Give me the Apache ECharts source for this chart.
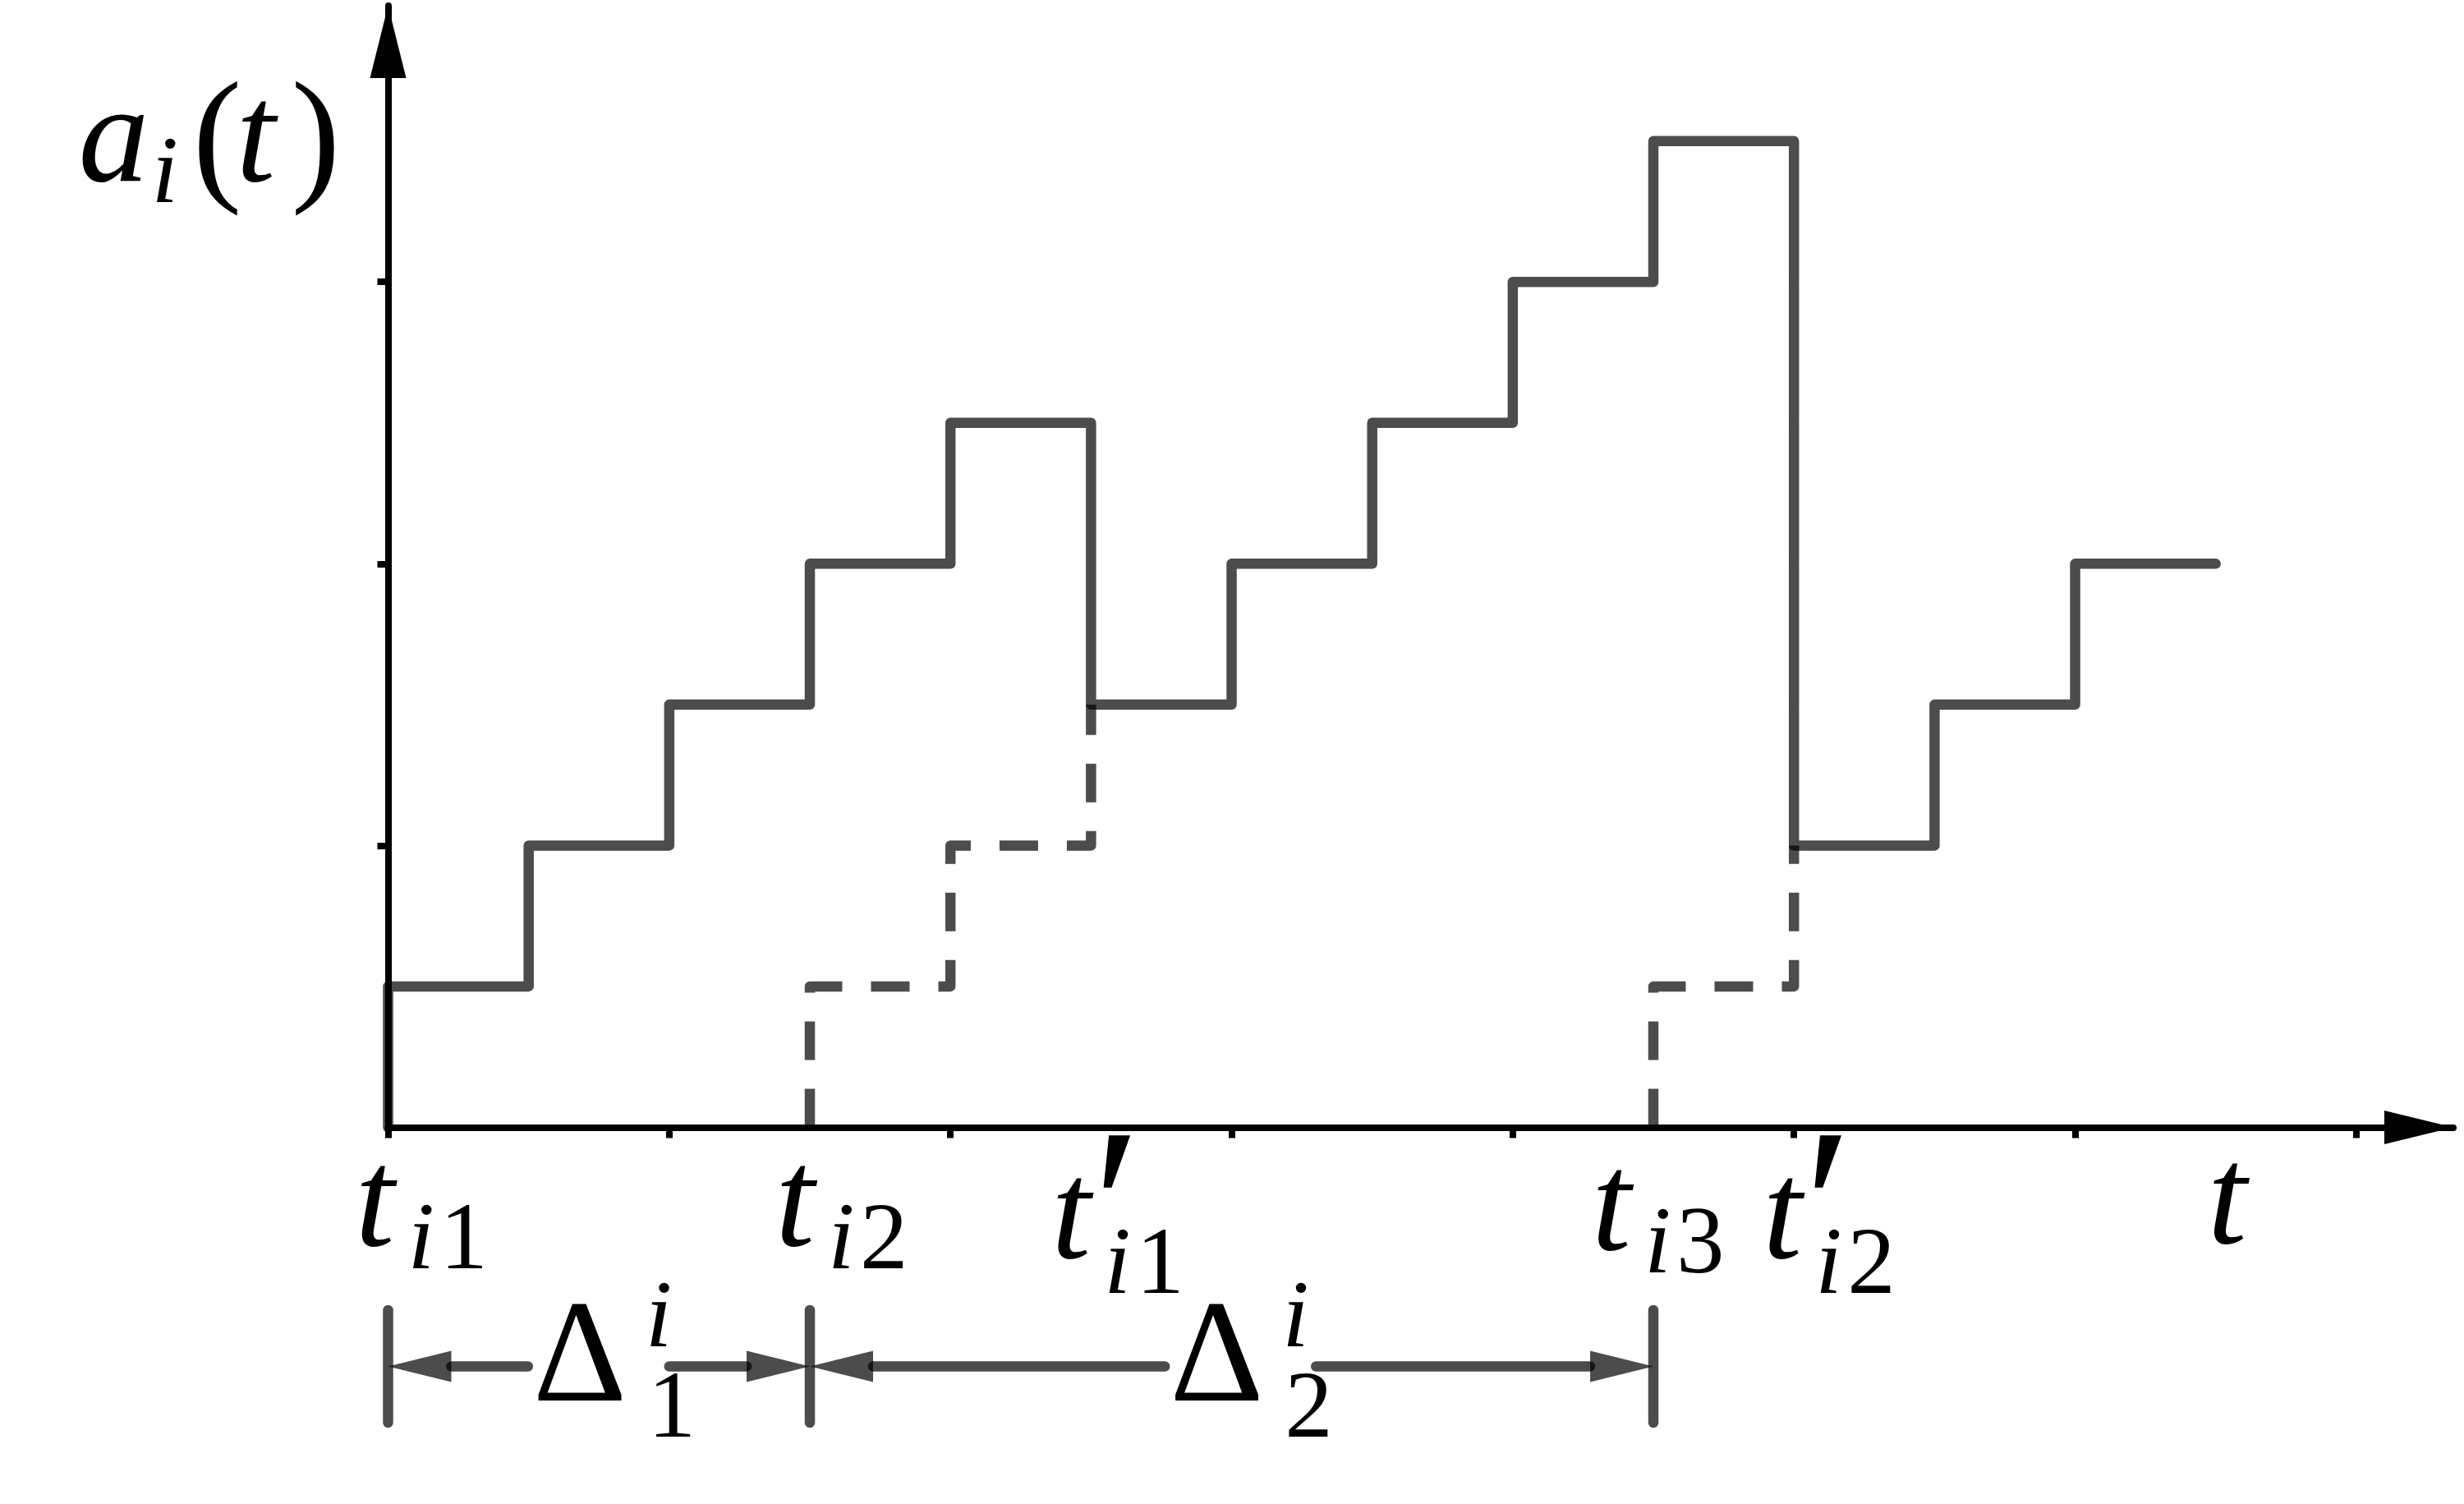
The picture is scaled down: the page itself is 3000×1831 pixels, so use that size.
<!DOCTYPE html>
<html>
<head>
<meta charset="utf-8">
<title>a_i(t)</title>
<script src="https://cdn.jsdelivr.net/npm/echarts@6/dist/echarts.min.js"></script>
<style>
  html, body { margin: 0; padding: 0; background: #fff; }
  #chart { width: 3000px; height: 1831px; }
</style>
</head>
<body>
<div id="chart"></div>
<script>
// step function a_i(t), drawn with step: 'end'
const solidT = [0, 0, 1, 2, 3, 4, 5, 6, 7, 8, 9, 10, 11, 12, 13];
const solidA = [0, 1, 2, 3, 4, 5, 3, 4, 5, 6, 7, 2, 3, 4, 4];
const dashT1 = [3, 3, 4, 5];
const dashA1 = [0, 1, 2, 3];
const dashT2 = [9, 9, 10];
const dashA2 = [0, 1, 2];

const xTicks = [0, 2, 4, 6, 8, 10, 12, 14];
const yTicks = [2, 4, 6];

// labels under the t axis
const tickLabelAt = [0, 3, 5, 9, 10, 13];
const tickLabelSub = ['i1', 'i2', 'i1', 'i3', 'i2', ''];
const tickLabelPrime = [false, false, true, false, true, false];

// Delta intervals
const spanStart = [0, 3];
const spanEnd = [3, 9];
const spanIndex = ['1', '2'];
const spanLabelAt = [1.03, 5.56];

// layout / style
const X_MAX = 14.69;
const Y_MAX = 7.96;
const GRAY = 'rgba(0,0,0,0.7)';
const FONT = '"Liberation Serif", "DejaVu Serif", serif';
const MAIN = 172, SUB = 117, DELTA = 178, PRIME = 270;
const MID = 0.29; // canvas "middle" above the alphabetic baseline, in em
const labelDx = [-40, -42, -48, -75, -38, -10];
const labelDy = [148, 148, 163, 153, 163, 145];
const spanGapEnd = [166, 178];

function txt(str, x, baseline, size, italic) {
  const font = (italic ? 'italic ' : '') + size + 'px ' + FONT;
  return {
    type: 'text',
    style: {
      text: str, x: x, y: baseline - MID * size,
      font: font, textFont: font,
      fill: '#000', textFill: '#000',
      align: 'left', textAlign: 'left',
      verticalAlign: 'middle', textVerticalAlign: 'middle'
    }
  };
}

function seg(x1, y1, x2, y2) {
  return {
    type: 'line',
    shape: { x1: x1, y1: y1, x2: x2, y2: y2 },
    style: { stroke: GRAY, lineWidth: 12.5, lineCap: 'round' }
  };
}

function head(tipX, y, dir) {
  const bx = tipX + dir * 77;
  return {
    type: 'polygon',
    shape: { points: [[tipX, y], [bx, y - 19], [bx, y + 19]] },
    style: { fill: GRAY }
  };
}

function pairs(ts, as) {
  return ts.map((t, i) => [t, as[i]]);
}

const chart = echarts.init(document.getElementById('chart'));

function valueAxis(max, ticks, arrowSize) {
  return {
    type: 'value',
    min: 0,
    max: max,
    interval: 2,
    splitLine: { show: false },
    axisLabel: { show: false },
    axisLine: {
      show: true,
      onZero: true,
      lineStyle: { color: '#000', width: 8 },
      symbol: ['none', 'triangle'],
      symbolSize: arrowSize,
      symbolOffset: [0, -arrowSize[1] / 2]
    },
    axisTick: { show: true, length: 13, lineStyle: { color: '#000', width: 8 }, customValues: ticks }
  };
}

function stepSeries(data, dashed) {
  return {
    type: 'line',
    data: data,
    step: 'end',
    symbol: 'none',
    clip: false,
    silent: true,
    emphasis: { disabled: true },
    lineStyle: dashed
      ? { color: GRAY, width: 12.5, type: [47, 35], dashOffset: 0, cap: 'butt', join: 'round' }
      : { color: GRAY, width: 12.5, cap: 'round', join: 'round' }
  };
}

chart.setOption({
  animation: false,
  backgroundColor: '#fff',
  grid: {
    left: 472.5,
    right: 13,
    top: 7,
    bottom: 458.5,
    containLabel: false,
    outerBoundsMode: 'none'
  },
  xAxis: valueAxis(X_MAX, xTicks, [41, 84]),
  yAxis: valueAxis(Y_MAX, yTicks, [44, 88]),
  series: [
    stepSeries(pairs(solidT, solidA), false),
    stepSeries(pairs(dashT1, dashA1), true),
    stepSeries(pairs(dashT2, dashA2), true),
    {
      // axis name a_i(t)
      type: 'custom',
      silent: true,
      clip: false,
      data: [[0, Y_MAX]],
      renderItem: function (params, api) {
        const p = api.coord([api.value(0), api.value(1)]);
        const base = p[1] + 218;
        return {
          type: 'group',
          children: [
            txt('a', p[0] - 377, base, MAIN, true),
            txt('i', p[0] - 288, base + 24, SUB, true),
            txt('(', p[0] - 238, base + 4, MAIN + 8, false),
            txt('t', p[0] - 185, base, MAIN, true),
            txt(')', p[0] - 118, base + 4, MAIN + 8, false)
          ]
        };
      }
    },
    {
      // t labels under the axis
      type: 'custom',
      silent: true,
      clip: false,
      data: tickLabelAt.map(t => [t, 0]),
      renderItem: function (params, api) {
        const i = params.dataIndex;
        const p = api.coord([api.value(0), api.value(1)]);
        const left = p[0] + labelDx[i];
        const base = p[1] + labelDy[i];
        const kids = [txt('t', left, base, MAIN, true)];
        if (tickLabelPrime[i]) kids.push(txt('\u2032', left + 50, base + 31, PRIME, false));
        const sub = tickLabelSub[i];
        if (sub) {
          const sb = base + (tickLabelPrime[i] ? 42 : 27);
          kids.push(txt(sub[0], left + 64, sb, SUB, true));
          kids.push(txt(sub.slice(1), left + 103, sb, SUB, false));
        }
        return { type: 'group', children: kids };
      }
    },
    {
      // Delta interval arrows
      type: 'custom',
      silent: true,
      clip: false,
      data: spanStart.map((s, i) => [s, spanEnd[i], spanLabelAt[i], 0]),
      encode: { x: [0, 1, 2], y: 3 },
      renderItem: function (params, api) {
        const i = params.dataIndex;
        const a = api.coord([api.value(0), 0]);
        const b = api.coord([api.value(1), 0]);
        const c = api.coord([api.value(2), 0]);
        const y0 = a[1];
        const y = y0 + 291;
        const kids = [seg(a[0], y0 + 222.5, a[0], y0 + 359.5)];
        if (i === spanStart.length - 1) kids.push(seg(b[0], y0 + 222.5, b[0], y0 + 359.5));
        kids.push(head(a[0], y, 1));
        kids.push(head(b[0], y, -1));
        kids.push(seg(a[0] + 77, y, c[0] - 6, y));
        kids.push(seg(c[0] + spanGapEnd[i], y, b[0] - 77, y));
        kids.push(txt('\u0394', c[0], y0 + 337.5, DELTA, false));
        kids.push(txt('i', c[0] + 137, y0 + 269.5, SUB, true));
        kids.push(txt(spanIndex[i], c[0] + 140, y0 + 379.5, SUB, false));
        return { type: 'group', children: kids };
      }
    }
  ]
});

window.addEventListener('resize', () => {
  chart.resize();
});
</script>
</body>
</html>
